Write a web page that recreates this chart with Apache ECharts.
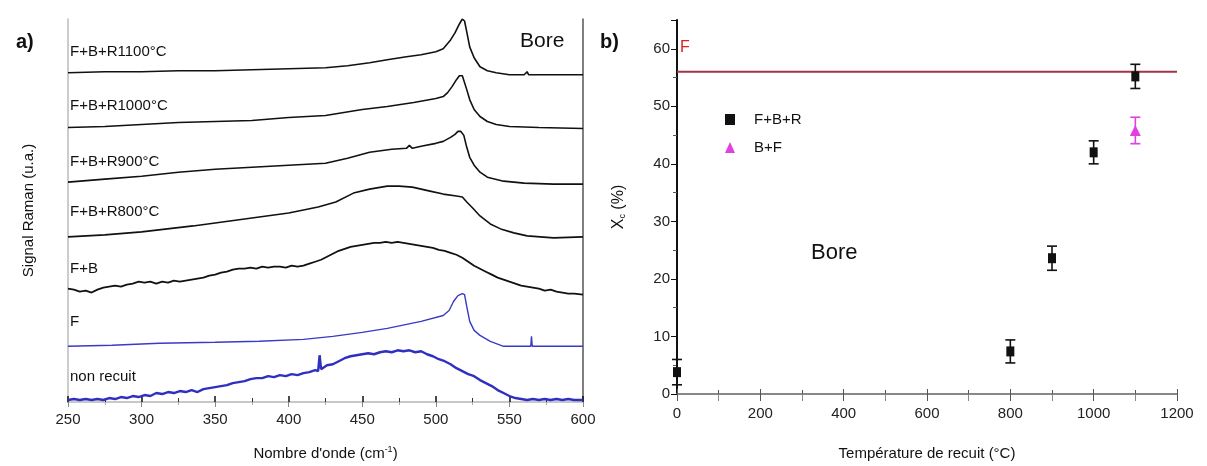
<!DOCTYPE html>
<html><head><meta charset="utf-8">
<script src="https://cdn.jsdelivr.net/npm/echarts@6/dist/echarts.min.js"></script>
<style>html,body{margin:0;padding:0;background:#fff}#c{width:1207px;height:466px}</style>
</head><body><div id="c"></div>
<script>
// ---------- Panel a : Raman spectra (wavenumber cm-1, stacked intensity a.u.) ----------
const specLabels = ['F+B+R1100°C','F+B+R1000°C','F+B+R900°C','F+B+R800°C','F+B','F','non recuit'];
const specR1100 = [[250,331],[275,332],[300,332],[325,333],[350,333],[375,334],[400,335],[425,336],[440,338],[455,341],[467,344],[480,347],[490,349],[500,352],[505,355],[510,364],[513,371],[516,380],[518,385],[519.5,383],[521,372],[523,357],[526,346],[530,337],[535,333],[541,331],[550,329],[560,329],[562,332],[563,329],[570,329],[580,329],[600,329]];
const specR1000 = [[250,276],[275,277],[300,279],[325,281],[350,282],[375,283],[400,286],[425,288],[450,294],[467,297],[485,301],[500,305],[505,307],[508,311],[511,317],[514,324],[516,328],[518,328],[519,326],[521,314],[523,304],[526,294],[530,287],[535,282],[541,279],[550,277],[570,276],[600,275]];
const specR900 = [[250,221],[275,224],[300,227],[325,231],[350,234],[375,236],[400,238],[425,240],[440,245],[455,251],[470,254],[480,255],[482,258],[484,255],[490,257],[500,260],[505,262],[510,266],[513,269],[515,272],[517,272],[519,268],[521,256],[523,246],[526,238],[530,231],[535,226],[546,222],[560,220],[580,219],[600,219]];
const specR800 = [[250,166],[275,168],[300,171],[335,177],[360,182],[380,186],[400,190],[420,196],[432,201],[444,210],[455,214],[467,217],[475,217],[484,216],[496,212],[505,209],[514,207],[518,206],[521,201],[525,195],[530,187],[537,179],[544,174],[553,170],[562,167],[580,165],[600,166]];
const specFB = [[250,114],[254,113],[258,111],[262,112],[266,110],[270,113],[274,115],[278,116],[282,117],[286,116],[290,118],[294,119],[298,121],[302,120],[306,121],[310,119],[314,121],[318,120],[322,122],[326,121],[330,122],[334,123],[338,124],[342,125],[346,127],[350,128],[354,130],[358,131],[362,133],[366,134],[370,134],[374,135],[378,134],[382,136],[386,135],[390,136],[394,136],[398,135],[402,137],[406,136],[410,137],[414,139],[418,141],[422,143],[426,146],[430,149],[434,152],[438,154],[442,156],[446,157],[450,158],[454,159],[458,160],[462,160],[466,161],[470,160],[474,161],[478,160],[482,159],[486,158],[490,157],[494,156],[498,155],[502,153],[506,152],[510,150],[514,148],[518,145],[522,141],[526,137],[530,134],[534,131],[538,128],[542,125],[546,123],[550,121],[554,119],[558,117],[562,116],[566,115],[570,114],[574,112],[578,113],[582,111],[586,110],[590,109],[594,109],[600,108]];
const specF = [[250,56],[280,57],[312,59],[350,60],[380,61],[410,63],[430,66],[450,70],[467,74],[490,81],[505,87],[509,92],[512,101],[515,107],[518,109],[519.5,108],[521,96],[523,81],[526,72],[530,67],[537,61],[546,56],[560,56],[564.5,56],[565,66],[565.5,56],[580,56],[600,56]];
const specNR = [[250,2],[254,3],[258,2],[262,3],[266,2],[270,3],[274,2],[278,4],[282,3],[286,5],[290,4],[294,6],[298,5],[302,7],[306,6],[310,9],[314,8],[318,10],[322,9],[326,11],[330,10],[334,12],[338,10],[342,13],[346,14],[350,15],[354,16],[358,17],[362,19],[366,20],[370,21],[374,23],[378,24],[382,24],[386,26],[390,25],[394,27],[398,26],[402,28],[406,27],[410,29],[414,30],[418,32],[420,31],[421,47],[422,33],[426,37],[430,38],[434,41],[438,44],[442,46],[446,47],[450,48],[454,49],[458,48],[462,50],[466,51],[470,50],[474,52],[478,51],[482,52],[486,50],[490,51],[494,48],[498,46],[502,43],[506,41],[510,38],[514,34],[518,31],[522,28],[526,26],[530,22],[534,19],[538,16],[542,12],[546,9],[550,6],[554,4],[558,3],[562,2],[566,3],[570,2],[574,3],[578,2],[582,3],[586,2],[590,3],[594,2],[600,2]];
const specData = [specR1100, specR1000, specR900, specR800, specFB, specF, specNR];
const specColors = ['#111','#111','#111','#111','#111','#3a3ac8','#2f2fc0'];
const specWidths = [1.6,1.6,1.6,1.6,1.8,1.4,2.4];

// ---------- Panel b : crystalline fraction vs annealing temperature ----------
const tempFBR = [0, 800, 900, 1000, 1100];
const xcFBR = [3.8, 7.4, 23.6, 42, 55.2];
const errFBR = [2.2, 2.0, 2.1, 2.0, 2.1];
const tempBF = [1100];
const xcBF = [45.8];
const errBF = [2.3];
const fLevel = 56;

const chart = echarts.init(document.getElementById('c'));
const FONT = 'Liberation Sans, Arial, sans-serif';

const errRender = function (color) {
  return function (params, api) {
    const x = api.value(0), lo = api.value(1), hi = api.value(2);
    const p1 = api.coord([x, lo]), p2 = api.coord([x, hi]);
    const cw = 5;
    const st = { stroke: color, lineWidth: 1.6 };
    return { type: 'group', children: [
      { type: 'line', shape: { x1: p1[0], y1: p1[1], x2: p2[0], y2: p2[1] }, style: st },
      { type: 'line', shape: { x1: p1[0]-cw, y1: p1[1], x2: p1[0]+cw, y2: p1[1] }, style: st },
      { type: 'line', shape: { x1: p2[0]-cw, y1: p2[1], x2: p2[0]+cw, y2: p2[1] }, style: st }
    ]};
  };
};

const series = [];
specData.forEach((d, i) => {
  series.push({ type: 'line', name: specLabels[i], xAxisIndex: 0, yAxisIndex: 0, data: d,
    showSymbol: false, silent: true, lineStyle: { color: specColors[i], width: specWidths[i] } });
});
series.push({ type: 'line', name: 'F-level', xAxisIndex: 2, yAxisIndex: 2, data: [[0, fLevel], [1200, fLevel]],
  showSymbol: false, lineStyle: { color: '#a3324a', width: 2 }, z: 1 });
series.push({ type: 'custom', name: 'errFBR', xAxisIndex: 2, yAxisIndex: 2, renderItem: errRender('#111'),
  data: tempFBR.map((t, i) => [t, xcFBR[i] - errFBR[i], xcFBR[i] + errFBR[i]]), z: 3 });
series.push({ type: 'custom', name: 'errBF', xAxisIndex: 2, yAxisIndex: 2, renderItem: errRender('#e040e0'),
  data: tempBF.map((t, i) => [t, xcBF[i] - errBF[i], xcBF[i] + errBF[i]]), z: 3 });
series.push({ type: 'scatter', name: 'F+B+R', xAxisIndex: 2, yAxisIndex: 2, symbol: 'rect', symbolSize: [8, 10],
  itemStyle: { color: '#111', opacity: 1 }, data: tempFBR.map((t, i) => [t, xcFBR[i]]), z: 4 });
series.push({ type: 'scatter', name: 'B+F', xAxisIndex: 2, yAxisIndex: 2, symbol: 'triangle', symbolSize: 11,
  itemStyle: { color: '#e040e0', opacity: 1 }, data: tempBF.map((t, i) => [t, xcBF[i]]), z: 4 });

const graphics = [
  { type: 'text', left: 16, top: 32, style: { text: 'a)', font: 'bold 20px ' + FONT, fill: '#111' } },
  { type: 'text', left: 600, top: 32, style: { text: 'b)', font: 'bold 20px ' + FONT, fill: '#111' } },
  { type: 'text', left: 520, top: 31, style: { text: 'Bore', font: '21px ' + FONT, fill: '#111' } },
  { type: 'text', left: 811, top: 242, style: { text: 'Bore', font: '22px ' + FONT, fill: '#111' } },
  { type: 'text', left: 680, top: 40, style: { text: 'F', font: '16px ' + FONT, fill: '#e0201e' } }
];
const specLabelTops = [44, 98, 154, 204, 261, 314, 369];
specLabels.forEach((s, i) => {
  graphics.push({ type: 'text', left: 70, top: specLabelTops[i], style: { text: s, font: '15px ' + FONT, fill: '#111' } });
});

const option = {
  animation: false,
  backgroundColor: '#fff',
  textStyle: { fontFamily: FONT },
  grid: [
    { left: 68, top: 19, width: 515, height: 385 },
    { left: 677, top: 20, width: 500, height: 376 }
  ],
  xAxis: [
    { gridIndex: 0, type: 'value', min: 250, max: 600, interval: 50, position: 'bottom',
      axisLine: { lineStyle: { color: '#111', width: 2 } },
      axisTick: { inside: true, length: 6, lineStyle: { color: '#111', width: 1.5 } },
      minorTick: { show: true, splitNumber: 2, length: 4, lineStyle: { color: '#333' } },
      splitLine: { show: false }, minorSplitLine: { show: false },
      axisLabel: { fontSize: 15, color: '#222', margin: 10 },
      name: 'Nombre d\'onde (cm{sup|-1})', nameLocation: 'middle', nameGap: 43,
      nameTextStyle: { fontSize: 15, color: '#111', rich: { sup: { fontSize: 9, verticalAlign: 'top', padding: [0, 0, 8, 0] } } } },
    { gridIndex: 0, type: 'value', min: 250, max: 600, interval: 50, position: 'top',
      axisLine: { lineStyle: { color: '#c8c8c8', width: 2 } },
      axisTick: { inside: true, length: 5, lineStyle: { color: '#888' } },
      minorTick: { show: true, splitNumber: 2, length: 3, lineStyle: { color: '#aaa' } },
      axisLabel: { show: false }, splitLine: { show: false } },
    { gridIndex: 1, type: 'value', min: 0, max: 1200, interval: 200, position: 'bottom',
      axisLine: { lineStyle: { color: '#888', width: 2 } },
      axisTick: { inside: true, length: 5, lineStyle: { color: '#555' } },
      minorTick: { show: true, splitNumber: 2, length: 4, lineStyle: { color: '#555' } },
      splitLine: { show: false },
      axisLabel: { fontSize: 15, color: '#222', margin: 12, formatter: v => String(v) },
      name: 'Température de recuit (°C)', nameLocation: 'middle', nameGap: 52,
      nameTextStyle: { fontSize: 15, color: '#111' } },
    { gridIndex: 1, type: 'value', min: 0, max: 1200, interval: 200, position: 'top',
      axisLine: { show: false },
      axisTick: { inside: true, length: 7, lineStyle: { color: '#555' } },
      minorTick: { show: true, splitNumber: 2, length: 7, lineStyle: { color: '#888' } },
      axisLabel: { show: false }, splitLine: { show: false } }
  ],
  yAxis: [
    { gridIndex: 0, type: 'value', min: 0, max: 385, position: 'left',
      axisLine: { lineStyle: { color: '#bbb', width: 1.5 } }, axisTick: { show: false },
      axisLabel: { show: false }, splitLine: { show: false },
      name: 'Signal Raman (u.a.)', nameLocation: 'middle', nameGap: 32,
      nameTextStyle: { fontSize: 15, color: '#111' } },
    { gridIndex: 0, type: 'value', min: 0, max: 385, position: 'right',
      axisLine: { lineStyle: { color: '#555', width: 1.5 } }, axisTick: { show: false },
      axisLabel: { show: false }, splitLine: { show: false } },
    { gridIndex: 1, type: 'value', min: 0, max: 65, interval: 10, position: 'left',
      axisLine: { lineStyle: { color: '#ccc', width: 1.5 } },
      axisTick: { inside: false, length: 5, lineStyle: { color: '#666' } },
      minorTick: { show: true, splitNumber: 2, length: 3, lineStyle: { color: '#999' } },
      splitLine: { show: false },
      axisLabel: { fontSize: 15, color: '#222', margin: 7, formatter: v => (v % 10 === 0 ? String(v) : '') },
      name: 'X{sub|c} (%)', nameLocation: 'middle', nameGap: 50,
      nameTextStyle: { fontSize: 16, color: '#111', rich: { sub: { fontSize: 9, verticalAlign: 'bottom', padding: [8, 0, 0, 0] } } } },
    { gridIndex: 1, type: 'value', min: 0, max: 65, interval: 10, position: 'right',
      axisLine: { lineStyle: { color: '#111', width: 2 } },
      axisTick: { inside: true, length: 6, lineStyle: { color: '#111' } },
      minorTick: { show: true, splitNumber: 2, length: 4, lineStyle: { color: '#555' } },
      axisLabel: { show: false }, splitLine: { show: false } }
  ],
  legend: {
    data: ['F+B+R', 'B+F'], orient: 'vertical', left: 720, top: 107, itemGap: 13,
    itemWidth: 10, itemHeight: 11, textStyle: { fontSize: 15, color: '#111', padding: [0, 0, 0, 14] },
    selectedMode: false
  },
  graphic: graphics,
  series: series
};
chart.setOption(option);
</script></body></html>
